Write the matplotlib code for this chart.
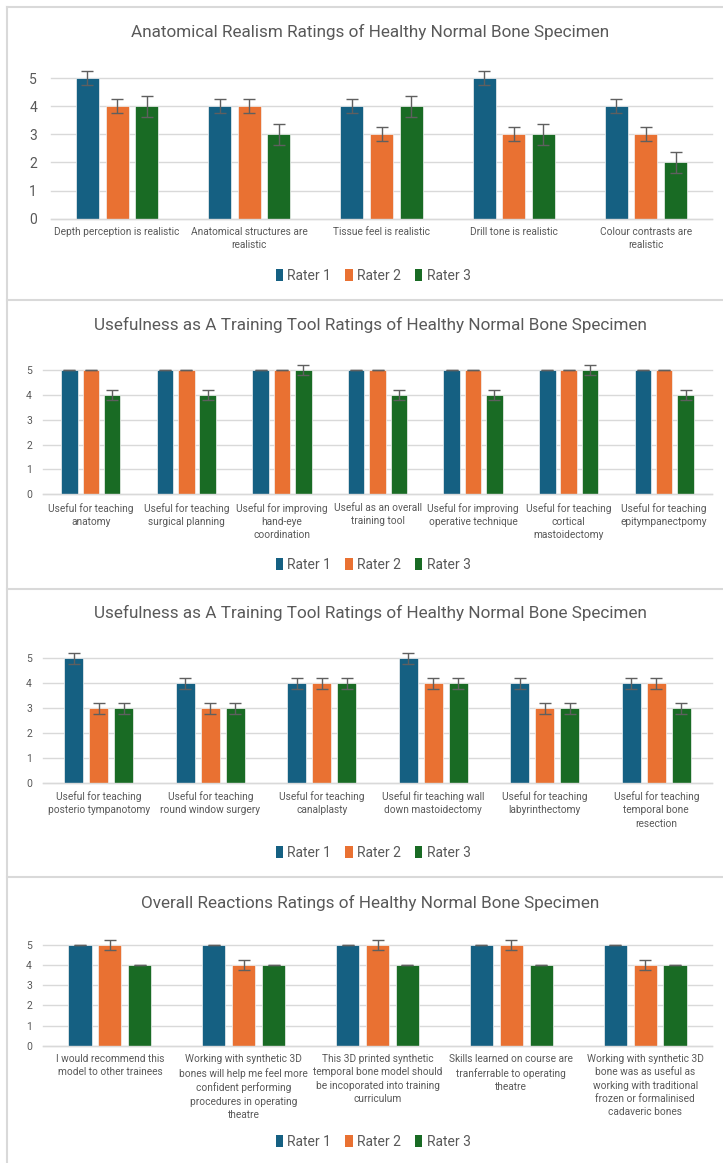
import matplotlib
matplotlib.use("Agg")
import matplotlib.pyplot as plt
from matplotlib.patches import Patch
from matplotlib.lines import Line2D
import numpy as np

plt.rcParams['font.family'] = ['Roboto', 'DejaVu Sans']

W, H = 723, 1163
DPI = 100

series_names = ["Rater 1", "Rater 2", "Rater 3"]
colors = ["#156082", "#E97132", "#196B24"]

# Panel 1
p1_title = "Anatomical Realism Ratings of Healthy Normal Bone Specimen"
p1_cats = ["Depth perception is realistic", "Anatomical structures are\nrealistic",
           "Tissue feel is realistic", "Drill tone is realistic",
           "Colour contrasts are\nrealistic"]
p1_r1 = [5, 4, 4, 5, 4]
p1_r2 = [4, 4, 3, 3, 3]
p1_r3 = [4, 3, 4, 3, 2]
p1_err = [0.25, 0.25, 0.37]

# Panel 2
p2_title = "Usefulness as A Training Tool Ratings of Healthy Normal Bone Specimen"
p2_cats = ["Useful for teaching\nanatomy", "Useful for teaching\nsurgical planning",
           "Useful for improving\nhand-eye\ncoordination", "Useful as an overall\ntraining tool",
           "Useful for improving\noperative technique", "Useful for teaching\ncortical\nmastoidectomy",
           "Useful for teaching\nepitympanectpomy"]
p2_r1 = [5, 5, 5, 5, 5, 5, 5]
p2_r2 = [5, 5, 5, 5, 5, 5, 5]
p2_r3 = [4, 4, 5, 4, 4, 5, 4]
p2_err = [0.0, 0.0, 0.2]

# Panel 3
p3_title = "Usefulness as A Training Tool Ratings of Healthy Normal Bone Specimen"
p3_cats = ["Useful for teaching\nposterio tympanotomy", "Useful for teaching\nround window surgery",
           "Useful for teaching\ncanalplasty", "Useful fir teaching wall\ndown mastoidectomy",
           "Useful for teaching\nlabyrinthectomy", "Useful for teaching\ntemporal bone\nresection"]
p3_r1 = [5, 4, 4, 5, 4, 4]
p3_r2 = [3, 3, 4, 4, 3, 4]
p3_r3 = [3, 3, 4, 4, 3, 3]
p3_err = [0.22, 0.22, 0.22]

# Panel 4
p4_title = "Overall Reactions Ratings of Healthy Normal Bone Specimen"
p4_cats = ["I would recommend this\nmodel to other trainees",
           "Working with synthetic 3D\nbones will help me feel more\nconfident performing\nprocedures in operating\ntheatre",
           "This 3D printed synthetic\ntemporal bone model should\nbe incoporated into training\ncurriculum",
           "Skills learned on course are\ntranferrable to operating\ntheatre",
           "Working with synthetic 3D\nbone was as useful as\nworking with traditional\nfrozen or formalinised\ncadaveric bones"]
p4_r1 = [5, 5, 5, 5, 5]
p4_r2 = [5, 4, 5, 5, 4]
p4_r3 = [4, 4, 4, 4, 4]
p4_err = [0.0, 0.26, 0.0]

yticks = [0, 1, 2, 3, 4, 5]

TXT = "#595959"
GRID = "#D9D9D9"

fig = plt.figure(figsize=(W / DPI, H / DPI), dpi=DPI)
fig.patch.set_facecolor("white")


def rect(l, t, r, b):
    return [l / W, 1 - b / H, (r - l) / W, (b - t) / H]


def fy(y):
    return 1 - y / H


panels = [
    dict(title=p1_title, cats=p1_cats, vals=[p1_r1, p1_r2, p1_r3], err=p1_err,
         box=(51, 78, 712, 218.7), title_y=32, legend_y=276, ytick_fs=10, ypad=10),
    dict(title=p2_title, cats=p2_cats, vals=[p2_r1, p2_r2, p2_r3], err=p2_err,
         box=(43, 370, 712, 494.3), title_y=325, legend_y=565, ytick_fs=7.5, ypad=8),
    dict(title=p3_title, cats=p3_cats, vals=[p3_r1, p3_r2, p3_r3], err=p3_err,
         box=(43, 658.3, 712, 782.7), title_y=613, legend_y=853, ytick_fs=7.5, ypad=8),
    dict(title=p4_title, cats=p4_cats, vals=[p4_r1, p4_r2, p4_r3], err=p4_err,
         box=(43, 945, 712, 1045.7), title_y=903, legend_y=1141.5, ytick_fs=7.5, ypad=8),
]

bw = 0.173
off = 0.224

for p in panels:
    l, t, r, b = p["box"]
    ax = fig.add_axes(rect(l, t, r, b))
    n = len(p["cats"])
    x = np.arange(n)
    for i, (vals, c) in enumerate(zip(p["vals"], colors)):
        xs = x + (i - 1) * off
        ax.bar(xs, vals, width=bw, color=c, edgecolor="#f2f2f2", linewidth=0.5, zorder=2)
        eb = ax.errorbar(xs, vals, yerr=[p["err"][i]] * n, fmt="none", ecolor="#5f5f5f",
                         elinewidth=1.0, capsize=4.5, capthick=1.0, zorder=3)
        for art in list(eb[1]) + list(eb[2]):
            art.set_clip_on(False)
    ax.set_xlim(-0.5, n - 0.5)
    ax.set_ylim(0, 5)
    ax.set_yticks(yticks)
    ax.set_xticks(x)
    ax.set_xticklabels(p["cats"], fontsize=7.3, color=TXT, linespacing=1.42)
    ax.tick_params(axis="both", length=0)
    ax.tick_params(axis="x", pad=6)
    ax.tick_params(axis="y", pad=p["ypad"], labelsize=p["ytick_fs"], labelcolor=TXT)
    for s in ["top", "right", "left"]:
        ax.spines[s].set_visible(False)
    ax.spines["bottom"].set_color(GRID)
    ax.spines["bottom"].set_linewidth(1.0)
    ax.grid(axis="y", color=GRID, linewidth=1.0, zorder=0)
    ax.set_axisbelow(True)
    for gl in ax.get_ygridlines():
        gl.set_clip_on(False)
    ax.set_facecolor("none")

    fig.text(370 / W, fy(p["title_y"]), p["title"], ha="center", va="center",
             fontsize=12.3, color=TXT)
    handles = [Patch(facecolor=c, edgecolor="none") for c in colors]
    fig.legend(handles, series_names, loc="center", bbox_to_anchor=(373 / W, fy(p["legend_y"])),
               ncol=3, frameon=False, fontsize=10, handlelength=0.55, handleheight=1.0,
               handletextpad=0.3, columnspacing=1.0, labelcolor=TXT)

# panel borders
for y in [7, 300, 589, 877]:
    fig.add_artist(Line2D([7 / W, 1], [fy(y), fy(y)], color=GRID, linewidth=1.5,
                          transform=fig.transFigure))
fig.add_artist(Line2D([7 / W, 7 / W], [fy(7), 0], color=GRID, linewidth=1.5,
                      transform=fig.transFigure))

fig.savefig("out.png", dpi=DPI, facecolor="white")
